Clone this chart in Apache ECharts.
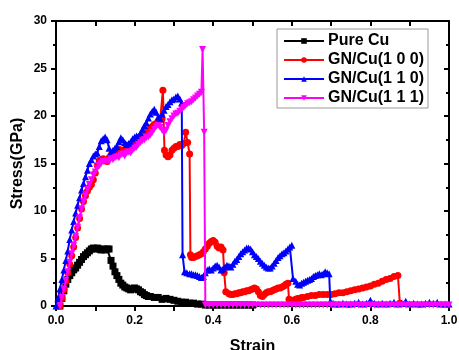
<!DOCTYPE html>
<html>
<head>
<meta charset="utf-8">
<script src="https://cdn.jsdelivr.net/npm/echarts@6/dist/echarts.min.js"></script>
<style>
  html, body { margin: 0; padding: 0; background: #fff; }
  #chart { width: 459px; height: 350px; }
</style>
</head>
<body>
<div id="chart"></div>
<script>
// [strain, stress (GPa)]
const pureCu = [
  [0.010,0],[0.015,0.8],[0.020,1.6],[0.025,2.3],[0.030,2.8],[0.035,3.2],[0.040,3.5],[0.045,3.8],
  [0.050,4.0],[0.055,4.3],[0.060,4.6],[0.065,4.9],[0.070,5.2],[0.075,5.4],[0.080,5.6],[0.085,5.8],
  [0.090,6.0],[0.095,6.1],[0.100,6.0],[0.105,6.1],[0.110,6.0],[0.115,5.9],[0.120,6.0],[0.125,5.9],
  [0.130,6.0],[0.135,6.0],[0.140,4.8],[0.145,4.2],[0.150,3.6],[0.155,3.2],[0.160,2.8],[0.165,2.4],
  [0.170,2.2],[0.175,2.0],[0.180,1.9],[0.185,1.8],[0.190,1.7],[0.195,1.8],[0.200,1.9],[0.205,1.8],
  [0.210,1.7],[0.215,1.5],[0.220,1.4],[0.225,1.2],[0.230,1.1],[0.235,1.0],[0.240,1.0],[0.250,0.9],
  [0.260,0.9],[0.270,0.7],[0.280,0.8],[0.290,0.7],[0.300,0.6],[0.310,0.5],[0.320,0.4],[0.330,0.4],
  [0.340,0.3],[0.350,0.3],[0.360,0.2],[0.370,0.2],[0.380,0.1],[0.390,0.1],[0.400,0.1],[0.410,0.1],
  [0.420,0.1],[0.430,0.1],[0.440,0.1],[0.450,0.1],[0.460,0.1],[0.470,0.1],[0.480,0.1],[0.490,0.1],[0.500,0.1]
];

const gn100 = [
  [0.010,0],[0.015,0.8],[0.020,1.7],[0.025,2.6],[0.030,3.5],[0.035,4.4],[0.040,5.3],[0.045,6.2],
  [0.050,7.2],[0.055,8.2],[0.060,9.2],[0.065,10.2],[0.070,11.0],[0.075,11.6],[0.080,12.1],[0.085,12.5],
  [0.090,12.8],[0.095,13.3],[0.100,14.0],[0.105,14.8],[0.110,15.3],[0.115,15.4],[0.120,15.5],[0.125,15.3],
  [0.130,15.2],[0.135,15.6],[0.140,15.9],[0.145,16.1],[0.150,16.3],[0.155,16.4],[0.160,16.5],[0.165,16.4],
  [0.170,16.3],[0.175,16.5],[0.180,16.7],[0.185,16.8],[0.190,16.7],[0.195,16.9],[0.200,17.1],[0.205,17.4],
  [0.210,17.6],[0.215,17.8],[0.220,18.0],[0.225,18.1],[0.230,18.3],[0.235,18.5],[0.240,18.7],[0.245,18.9],
  [0.250,19.1],[0.255,19.2],[0.260,19.4],[0.265,19.6],[0.270,19.7],[0.272,22.7],[0.276,16.4],[0.280,15.9],
  [0.285,15.7],[0.290,15.9],[0.295,16.4],[0.300,16.6],[0.305,16.8],[0.310,16.8],[0.315,17.0],[0.320,16.9],
  [0.325,17.1],[0.330,18.3],[0.335,17.2],[0.340,16.0],[0.342,5.4],[0.345,5.1],[0.350,5.1],[0.355,5.2],
  [0.360,5.3],[0.365,5.4],[0.370,5.5],[0.375,5.7],[0.380,6.0],[0.385,6.3],[0.390,6.6],[0.395,6.8],
  [0.400,6.9],[0.405,6.7],[0.410,6.3],[0.415,6.1],[0.420,6.2],[0.425,5.9],[0.428,3.5],[0.432,1.5],
  [0.440,1.3],[0.445,1.2],[0.450,1.2],[0.455,1.3],[0.460,1.3],[0.465,1.4],[0.470,1.4],[0.475,1.5],
  [0.480,1.5],[0.485,1.6],[0.490,1.6],[0.495,1.7],[0.500,1.8],[0.505,1.9],[0.510,1.8],[0.515,1.5],
  [0.520,1.1],[0.525,1.0],[0.530,1.2],[0.535,1.4],[0.540,1.5],[0.545,1.5],[0.550,1.6],[0.555,1.7],
  [0.560,1.8],[0.565,1.9],[0.570,1.9],[0.575,2.0],[0.580,2.1],[0.585,2.3],[0.590,2.4],[0.593,0.7],
  [0.600,0.6],[0.605,0.6],[0.610,0.7],[0.615,0.8],[0.620,0.8],[0.625,0.9],[0.630,0.9],[0.640,1.0],
  [0.650,1.1],[0.660,1.1],[0.670,1.2],[0.680,1.2],[0.690,1.2],[0.700,1.2],[0.710,1.3],[0.720,1.4],
  [0.730,1.4],[0.740,1.5],[0.750,1.6],[0.760,1.7],[0.770,1.8],[0.780,1.9],[0.790,2.0],[0.800,2.1],
  [0.810,2.3],[0.820,2.4],[0.830,2.6],[0.840,2.8],[0.850,2.9],[0.860,3.1],[0.870,3.2],[0.875,0.3]
];

const gn110 = [
  [0.000,0],[0.005,0.8],[0.010,1.8],[0.015,2.8],[0.020,3.8],[0.025,4.8],[0.030,5.8],[0.035,7.0],
  [0.040,8.0],[0.045,8.9],[0.050,9.8],[0.055,10.6],[0.060,11.4],[0.065,12.2],[0.070,12.9],[0.075,13.6],
  [0.080,14.3],[0.085,15.0],[0.090,15.4],[0.095,15.8],[0.100,16.0],[0.105,16.1],[0.110,16.8],[0.115,17.4],
  [0.120,17.6],[0.125,17.8],[0.130,17.5],[0.135,16.6],[0.140,16.2],[0.145,16.4],[0.150,16.6],[0.155,16.8],
  [0.160,17.3],[0.165,17.7],[0.170,17.5],[0.175,17.2],[0.180,17.0],[0.185,17.1],[0.190,17.3],[0.195,17.6],
  [0.200,17.8],[0.205,17.9],[0.210,17.8],[0.215,18.2],[0.220,18.6],[0.225,19.0],[0.230,19.3],[0.235,19.8],
  [0.240,20.2],[0.245,20.5],[0.250,20.7],[0.255,20.4],[0.260,19.9],[0.265,19.7],[0.270,20.2],[0.275,20.6],
  [0.280,21.0],[0.285,21.2],[0.290,21.5],[0.295,21.7],[0.300,21.8],[0.305,22.0],[0.310,22.1],[0.315,21.8],
  [0.320,21.4],[0.322,5.4],[0.327,3.6],[0.333,3.5],[0.340,3.4],[0.345,3.4],[0.350,3.3],[0.355,3.3],
  [0.360,3.2],[0.365,3.1],[0.370,3.0],[0.375,3.1],[0.380,3.5],[0.385,3.8],[0.390,3.9],[0.395,3.8],
  [0.400,4.0],[0.405,4.2],[0.410,4.3],[0.415,4.1],[0.420,3.8],[0.425,3.9],[0.430,4.1],[0.435,4.3],
  [0.440,4.2],[0.445,4.1],[0.450,4.4],[0.455,4.7],[0.460,4.9],[0.465,5.2],[0.470,5.5],[0.475,5.7],
  [0.480,5.9],[0.485,6.1],[0.490,6.1],[0.495,6.0],[0.500,5.7],[0.505,5.4],[0.510,5.2],[0.515,5.0],
  [0.520,4.7],[0.525,4.5],[0.530,4.3],[0.535,4.1],[0.540,4.0],[0.545,4.0],[0.550,4.2],[0.555,4.5],
  [0.560,4.8],[0.565,5.1],[0.570,5.3],[0.575,5.5],[0.580,5.6],[0.585,5.8],[0.590,6.0],[0.595,6.2],
  [0.600,6.4],[0.603,2.9],[0.610,2.6],[0.615,2.3],[0.620,2.2],[0.625,2.4],[0.630,2.5],[0.635,2.6],
  [0.640,2.7],[0.645,2.8],[0.650,2.9],[0.655,3.1],[0.660,3.2],[0.665,3.3],[0.670,3.4],[0.675,3.3],
  [0.680,3.4],[0.685,3.6],[0.690,3.5],[0.695,3.4],[0.698,0.5],[0.705,0.3],[0.710,0.2],[0.720,0.2],
  [0.730,0.3],[0.740,0.2],[0.750,0.2],[0.760,0.3],[0.770,0.4],[0.780,0.2],[0.790,0.3],[0.800,0.6],
  [0.810,0.3],[0.820,0.2],[0.830,0.3],[0.840,0.2],[0.850,0.3],[0.860,0.4],[0.870,0.2],[0.880,0.3],
  [0.890,0.5],[0.900,0.2],[0.910,0.3],[0.920,0.2],[0.930,0.2],[0.940,0.3],[0.950,0.4],[0.960,0.3],
  [0.970,0.4],[0.980,0.2],[0.990,0.2],[1.000,0.2]
];

const gn111 = [
  [0.010,0],[0.015,0.9],[0.020,1.8],[0.025,2.7],[0.030,3.6],[0.035,4.6],[0.040,5.5],[0.045,6.4],
  [0.050,7.3],[0.055,8.3],[0.060,9.3],[0.065,10.2],[0.070,11.0],[0.075,11.7],[0.080,12.3],[0.085,12.8],
  [0.090,13.3],[0.095,13.8],[0.100,14.1],[0.105,14.5],[0.110,14.8],[0.115,15.0],[0.120,15.2],[0.125,15.2],
  [0.130,15.3],[0.135,15.2],[0.140,15.5],[0.145,15.4],[0.150,15.6],[0.155,15.7],[0.160,15.6],[0.165,15.9],
  [0.170,16.0],[0.175,15.8],[0.180,16.1],[0.185,16.2],[0.190,16.1],[0.195,16.4],[0.200,16.6],[0.205,16.7],
  [0.210,17.0],[0.215,17.2],[0.220,17.4],[0.225,17.5],[0.230,17.7],[0.235,17.8],[0.240,18.0],[0.245,18.3],
  [0.250,18.6],[0.255,18.9],[0.260,19.0],[0.265,18.8],[0.270,18.5],[0.275,18.2],[0.280,18.5],[0.285,19.0],
  [0.290,19.4],[0.295,19.7],[0.300,20.0],[0.305,20.2],[0.310,20.3],[0.315,20.5],[0.320,20.7],[0.325,20.9],
  [0.330,21.1],[0.335,21.3],[0.340,21.4],[0.345,21.5],[0.350,21.7],[0.355,21.9],[0.360,22.1],[0.365,22.3],
  [0.370,22.5],[0.373,27.0],[0.377,18.3],[0.380,0.1],[0.390,0.1],[0.400,0.1],[0.410,0.1],[0.420,0.1],
  [0.430,0.1],[0.440,0.1],[0.450,0.1],[0.460,0.1],[0.470,0.1],[0.480,0.1],[0.490,0.1],[0.500,0.1],
  [0.510,0.1],[0.520,0.1],[0.530,0.1],[0.540,0.1],[0.550,0.1],[0.560,0.1],[0.570,0.1],[0.580,0.1],
  [0.590,0.1],[0.600,0.1],[0.610,0.1],[0.620,0.1],[0.630,0.1],[0.640,0.1],[0.650,0.1],[0.660,0.1],
  [0.670,0.1],[0.680,0.1],[0.690,0.1],[0.700,0.1],[0.710,0.1],[0.720,0.1],[0.730,0.1],[0.740,0.1],
  [0.750,0.1],[0.760,0.1],[0.770,0.1],[0.780,0.1],[0.790,0.1],[0.800,0.1],[0.810,0.1],[0.820,0.1],
  [0.830,0.1],[0.840,0.1],[0.850,0.1],[0.860,0.1],[0.870,0.1],[0.880,0.1],[0.890,0.1],[0.900,0.1],
  [0.910,0.1],[0.920,0.1],[0.930,0.1],[0.940,0.1],[0.950,0.1],[0.960,0.1],[0.970,0.1],[0.980,0.1],
  [0.990,0.1],[1.000,0.1]
];

const seriesNames = ["Pure Cu", "GN/Cu(1 0 0)", "GN/Cu(1 1 0)", "GN/Cu(1 1 1)"];
const seriesColors = ["#000000", "#ff0000", "#0000ff", "#ff00ff"];
const seriesSymbols = ["rect", "circle", "triangle", "triangle"];
const seriesRotate = [0, 0, 0, 180];
const seriesData = [pureCu, gn100, gn110, gn111];

const FONT = "Arial, 'Liberation Sans', sans-serif";

const chart = echarts.init(document.getElementById("chart"));

const boxAxis = (pos) => ({
  type: "value",
  position: pos,
  axisLine: { show: true, onZero: false, lineStyle: { color: "#000", width: 2 } },
  axisLabel: { show: false },
  splitLine: { show: false }
});

chart.setOption({
  animation: false,
  backgroundColor: "#fff",
  grid: { left: 56, right: 10, top: 21, bottom: 44, outerBoundsMode: "none" },
  legend: {
    orient: "vertical",
    left: 277,
    top: 29,
    padding: [4, 4, 2, 6],
    itemGap: 3,
    itemWidth: 40,
    itemHeight: 7,
    borderColor: "#999",
    borderWidth: 1,
    data: seriesNames,
    textStyle: { fontFamily: FONT, fontWeight: "bold", fontSize: 16, color: "#000", padding: [0, 0, 0, -1] }
  },
  xAxis: [
    {
      type: "value",
      min: 0, max: 1, interval: 0.2,
      name: "Strain",
      nameLocation: "middle",
      nameGap: 33,
      nameMoveOverlap: false,
      nameTextStyle: { fontFamily: FONT, fontWeight: "bold", fontSize: 16, color: "#000" },
      axisLine: { onZero: false, lineStyle: { color: "#000", width: 2 } },
      axisTick: { inside: false, length: 5, lineStyle: { width: 2 } },
      minorTick: { show: true, splitNumber: 2, length: 5, lineStyle: { color: "#000", width: 2 } },
      axisLabel: {
        fontFamily: FONT, fontWeight: "bold", fontSize: 12, color: "#000", margin: 9,
        formatter: (v) => v.toFixed(1)
      },
      splitLine: { show: false }
    },
    Object.assign(boxAxis("top"), {
      min: 0, max: 1, interval: 0.2,
      axisTick: { inside: true, length: 5, lineStyle: { width: 2 } },
      minorTick: { show: true, splitNumber: 2, length: 5, lineStyle: { color: "#000", width: 2 } }
    })
  ],
  yAxis: [
    {
      type: "value",
      min: 0, max: 30, interval: 5,
      name: "Stress(GPa)",
      nameLocation: "middle",
      nameGap: 30,
      nameMoveOverlap: false,
      nameTextStyle: { fontFamily: FONT, fontWeight: "bold", fontSize: 16, color: "#000" },
      axisLine: { show: true, onZero: false, lineStyle: { color: "#000", width: 2 } },
      axisTick: { show: true, inside: false, length: 5, lineStyle: { width: 2 } },
      minorTick: { show: true, splitNumber: 2, length: 3, lineStyle: { color: "#000", width: 2 } },
      axisLabel: { fontFamily: FONT, fontWeight: "bold", fontSize: 12, color: "#000", margin: 9 },
      splitLine: { show: false }
    },
    Object.assign(boxAxis("right"), {
      min: 0, max: 30, interval: 5,
      axisTick: { show: true, inside: true, length: 5, lineStyle: { width: 2 } },
      minorTick: { show: true, splitNumber: 2, length: 3, lineStyle: { color: "#000", width: 2 } }
    })
  ],
  series: seriesData.map((d, i) => ({
    name: seriesNames[i],
    type: "line",
    data: d,
    symbol: seriesSymbols[i],
    symbolRotate: seriesRotate[i],
    symbolSize: 7,
    showSymbol: true,
    clip: false,
    color: seriesColors[i],
    lineStyle: { width: 2, color: seriesColors[i] },
    itemStyle: { color: seriesColors[i] },
    z: 2 + i
  }))
});
</script>
</body>
</html>
